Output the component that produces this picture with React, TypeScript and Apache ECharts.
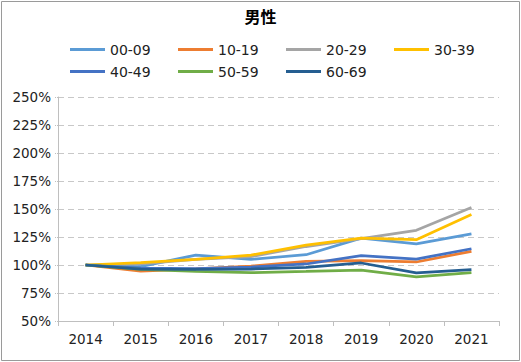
import React, { useEffect, useRef } from "react";
import * as echarts from "echarts";

const years = ["2014", "2015", "2016", "2017", "2018", "2019", "2020", "2021"];
const seriesNames = ["00-09", "10-19", "20-29", "30-39", "40-49", "50-59", "60-69"];
const s0009 = [100, 98.5, 108.9, 105, 109.2, 124, 118.8, 127.7];
const s1019 = [100, 94.6, 96.5, 99, 103.2, 103.8, 102.7, 112.2];
const s2029 = [100, 101, 105, 107.5, 116.5, 123.5, 131, 151.4];
const s3039 = [100, 102.2, 105, 108.8, 117.8, 124, 122.6, 145.2];
const s4049 = [100, 97.3, 96.8, 98.2, 100.9, 108.3, 105.3, 114.5];
const s5059 = [100, 96, 94.3, 93.2, 94.3, 95.5, 89.3, 93.1];
const s6069 = [100, 96.4, 96, 96.4, 97.9, 101.8, 92.9, 95.8];
const seriesData = [s0009, s1019, s2029, s3039, s4049, s5059, s6069];
const colors = ["#5B9BD5", "#ED7D31", "#A5A5A5", "#FFC000", "#4472C4", "#70AD47", "#255E91"];
const yTicks = { min: 50, max: 250, interval: 25 };

const FONT = "DejaVu Sans";

export default function App() {
  const ref = useRef<HTMLDivElement>(null);
  useEffect(() => {
    const chart = echarts.init(ref.current!, null, { renderer: "svg" });
    chart.setOption({
      animation: false,
      color: colors,
      title: {
        text: "男性",
        left: "center",
        top: 3,
        textStyle: { fontFamily: "Noto Sans CJK SC", fontSize: 16, fontWeight: "bold", color: "#000" },
      },
      legend: {
        left: 65,
        top: 36,
        width: 440,
        icon: "rect",
        itemWidth: 35,
        itemHeight: 3,
        itemGap: 5,
        data: seriesNames,
        textStyle: { fontFamily: FONT, fontSize: 14, color: "#222", width: 63, lineHeight: 17 },
      },
      grid: { left: 58, right: 22, top: 97, bottom: 41 },
      xAxis: {
        type: "category",
        data: years,
        boundaryGap: true,
        axisLine: { lineStyle: { color: "#BFBFBF", width: 1 } },
        axisTick: { show: true, length: 5, lineStyle: { color: "#BFBFBF" } },
        axisLabel: { fontFamily: FONT, fontSize: 13.5, color: "#222", margin: 11 },
        splitLine: { show: false },
      },
      yAxis: {
        type: "value",
        min: yTicks.min,
        max: yTicks.max,
        interval: yTicks.interval,
        axisLine: { show: true, lineStyle: { color: "#BFBFBF", width: 1 } },
        axisTick: { show: true, length: 4, lineStyle: { color: "#BFBFBF", type: "dotted" } },
        axisLabel: { fontFamily: FONT, fontSize: 13.5, color: "#222", formatter: "{value}%", margin: 7 },
        splitLine: { show: true, lineStyle: { color: "#C8C8C8", type: [6, 4], width: 1 } },
      },
      graphic: [
        {
          type: "rect",
          shape: { x: 1.5, y: 1.5, width: 518, height: 359 },
          style: { fill: "none", stroke: "#9A9A9A", lineWidth: 1 },
          silent: true,
        },
      ],
      series: seriesNames.map((name, i) => ({
        name,
        type: "line",
        data: seriesData[i],
        symbol: "none",
        lineStyle: { width: 2.75, color: colors[i] },
        itemStyle: { color: colors[i] },
      })),
    });
    return () => chart.dispose();
  }, []);
  return (
    <div
      ref={ref}
      style={{ position: "absolute", left: 0, top: 0, width: 521, height: 362, background: "#fff" }}
    />
  );
}
